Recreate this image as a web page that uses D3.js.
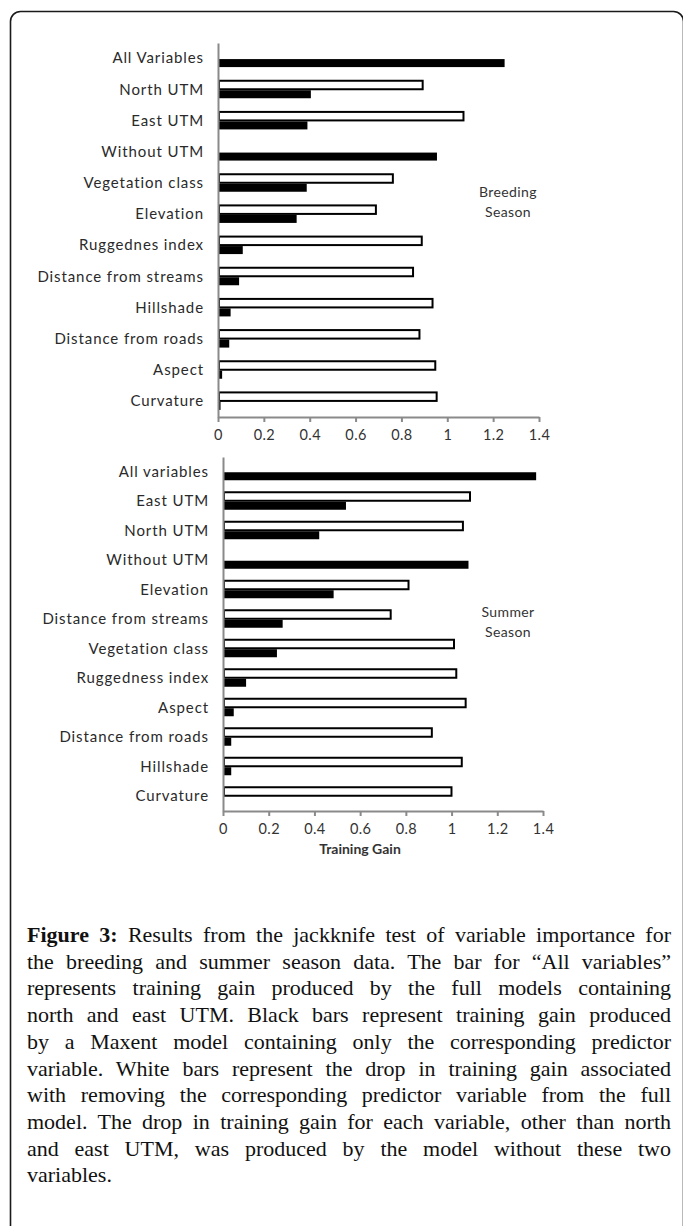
<!DOCTYPE html>
<html>
<head>
<meta charset="utf-8">
<script src="https://cdn.jsdelivr.net/npm/d3@7"></script>
<style>
  body { margin: 0; background: #fff; }
  #wrap { position: relative; width: 683px; height: 1226px; overflow: hidden; }
  #wrap svg { position: absolute; left: 0; top: 0; }
  .caption {
    position: absolute; left: 27px; width: 644px; top: 922px;
    font-family: "Liberation Serif", serif; font-size: 22px; line-height: 26.7px; color: #111;
  }
  .caption div { text-align: justify; text-align-last: justify; white-space: nowrap; }
  .caption div.last { text-align-last: left; }
  .caption b { font-weight: bold; }
</style>
</head>
<body>
<div id="wrap"></div>
<script>
// breeding season (top panel)
const breedingCats = ["All Variables", "North UTM", "East UTM", "Without UTM", "Vegetation class",
  "Elevation", "Ruggednes index", "Distance from streams", "Hillshade", "Distance from roads",
  "Aspect", "Curvature"];
const breedingOnly = [1.25, 0.405, 0.39, 0.955, 0.387, 0.343, 0.108, 0.092, 0.055, 0.049, 0.018, 0.011];
const breedingDrop = [null, 0.897, 1.075, null, 0.767, 0.693, 0.893, 0.855, 0.94, 0.883, 0.952, 0.958];

// summer season (bottom panel)
const summerCats = ["All variables", "East UTM", "North UTM", "Without UTM", "Elevation",
  "Distance from streams", "Vegetation class", "Ruggedness index", "Aspect", "Distance from roads",
  "Hillshade", "Curvature"];
const summerOnly = [1.37, 0.538, 0.421, 1.074, 0.484, 0.261, 0.236, 0.101, 0.047, 0.036, 0.036, 0];
const summerDrop = [null, 1.085, 1.054, null, 0.816, 0.738, 1.015, 1.025, 1.066, 0.918, 1.049, 1.004];

const gainTicks = [0, 0.2, 0.4, 0.6, 0.8, 1, 1.2, 1.4];

const captionLines = [
  "<b>Figure 3:</b> Results from the jackknife test of variable importance for",
  "the breeding and summer season data. The bar for \u201cAll variables\u201d",
  "represents training gain produced by the full models containing",
  "north and east UTM. Black bars represent training gain produced",
  "by a Maxent model containing only the corresponding predictor",
  "variable. White bars represent the drop in training gain associated",
  "with removing the corresponding predictor variable from the full",
  "model. The drop in training gain for each variable, other than north",
  "and east UTM, was produced by the model without these two",
  "variables."
];

const W = 683, H = 1226;
const labelFont = "Lato, 'Open Sans', sans-serif";

const wrap = d3.select("#wrap");
const svg = wrap.append("svg").attr("width", W).attr("height", H);

// frame round the figure
svg.append("rect")
  .attr("x", 10.5).attr("y", 11.5)
  .attr("width", 673).attr("height", 1300)
  .attr("rx", 10)
  .attr("fill", "none").attr("stroke", "#1a1a1a").attr("stroke-width", 1.6);

function drawPanel(cats, only, drop, x0, x1, top, bottom, note, noteY) {
  const x = d3.scaleLinear().domain([0, 1.4]).range([x0, x1]);
  const y = d3.scaleBand().domain(cats).range([top, bottom]);
  const mid = c => y(c) + y.bandwidth() / 2;

  const g = svg.append("g");

  const dropRows = cats.map((c, i) => ({ c: c, v: drop[i] })).filter(d => d.v != null);
  const onlyRows = cats.map((c, i) => ({ c: c, v: only[i] }));

  g.selectAll(".drop")
    .data(dropRows)
    .join("rect")
    .attr("class", "drop")
    .attr("x", x(0) + 1)
    .attr("y", d => mid(d.c) - 9)
    .attr("width", d => x(d.v) - x(0) - 2)
    .attr("height", 8.5)
    .attr("fill", "#fff")
    .attr("stroke", "#000")
    .attr("stroke-width", 2);

  g.selectAll(".only")
    .data(onlyRows)
    .join("rect")
    .attr("class", "only")
    .attr("x", x(0))
    .attr("y", d => mid(d.c) + 0.5)
    .attr("width", d => x(d.v) - x(0))
    .attr("height", 8)
    .attr("fill", "#000");

  // category axis
  const ya = g.append("g")
    .attr("transform", `translate(${x0},0)`)
    .call(d3.axisLeft(y).tickSize(0).tickPadding(14));
  ya.select(".domain").attr("stroke", "#8a8a8a").attr("stroke-width", 2);
  ya.selectAll("text")
    .attr("font-family", labelFont).attr("font-size", 15)
    .attr("letter-spacing", 0.9).attr("fill", "#2a2a2a");

  // gain axis
  const xa = g.append("g")
    .attr("transform", `translate(0,${bottom})`)
    .call(d3.axisBottom(x).tickValues(gainTicks).tickSize(5).tickSizeOuter(0)
      .tickPadding(8).tickFormat(d3.format("~g")));
  xa.select(".domain").attr("stroke", "#8a8a8a").attr("stroke-width", 2);
  xa.selectAll(".tick line").attr("stroke", "#8a8a8a").attr("stroke-width", 2);
  xa.selectAll("text")
    .attr("font-family", labelFont).attr("font-size", 14.5)
    .attr("letter-spacing", 0.4).attr("fill", "#333");

  // season note
  g.append("text")
    .attr("x", 508).attr("y", noteY)
    .attr("text-anchor", "middle")
    .attr("font-family", labelFont).attr("font-size", 14)
    .attr("letter-spacing", 0.4).attr("fill", "#333")
    .selectAll("tspan")
    .data(note)
    .join("tspan")
    .attr("x", 508)
    .attr("dy", (d, i) => i === 0 ? 0 : 20)
    .text(d => d);

  return x;
}

drawPanel(breedingCats, breedingOnly, breedingDrop, 218, 539, 43, 417,
  ["Breeding", "Season"], 197);
drawPanel(summerCats, summerOnly, summerDrop, 223, 543, 457, 811,
  ["Summer", "Season"], 617);

svg.append("text")
  .attr("x", 360).attr("y", 854)
  .attr("text-anchor", "middle")
  .attr("font-family", labelFont).attr("font-size", 14).attr("font-weight", "bold")
  .attr("fill", "#333")
  .text("Training Gain");

// caption
const cap = wrap.append("div").attr("class", "caption");
cap.selectAll("div")
  .data(captionLines)
  .join("div")
  .classed("last", (d, i) => i === captionLines.length - 1)
  .html(d => d);
</script>
</body>
</html>
